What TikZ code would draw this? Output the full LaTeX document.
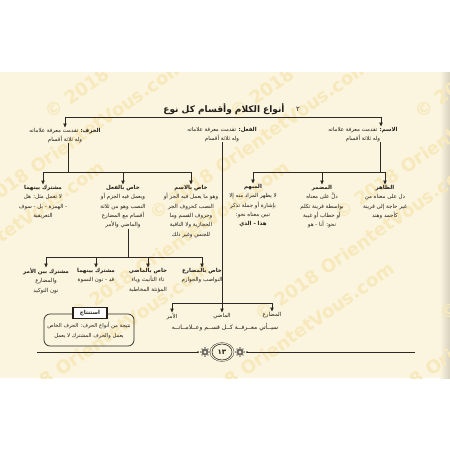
\documentclass[tikz,border=0pt]{standalone}
\usepackage{fontspec}
\usetikzlibrary{arrows.meta,calc}
\TeXXeTstate=1
\newfontfamily\arfont[Script=Arabic]{DejaVu Sans}
\newfontfamily\wmfont{DejaVu Sans}
\newcommand\AR[1]{\beginR #1\endR}
\definecolor{pagebg}{RGB}{251,244,222}
\definecolor{ink}{RGB}{35,30,25}
\definecolor{wm}{RGB}{247,233,188}
\definecolor{linec}{RGB}{45,40,35}
\begin{document}
\begin{tikzpicture}[x=1pt,y=-1pt,
  txt/.style={font=\arfont\fontsize{5.5}{9.4}\selectfont, align=center, inner sep=0pt, text=ink, anchor=north},
  ttl/.style={font=\arfont\bfseries\fontsize{9}{10}\selectfont, inner sep=0pt, text=ink},
  conn/.style={draw=linec, line width=0.6pt},
  arr/.style={conn, -{Triangle[length=4pt,width=3.4pt]}, shorten >=0.5pt},
  wmark/.style={font=\wmfont\bfseries\fontsize{18}{18}\selectfont, text=wm, anchor=base west, rotate=35, inner sep=0pt}]
\useasboundingbox (0,0) rectangle (450,450);
\fill[white] (0,0) rectangle (450,450);
\fill[pagebg] (0,72) rectangle (450,378);
\shade[left color=pagebg, right color={rgb,255:red,215;green,208;blue,190}] (440,72) rectangle (450,378);
\begin{scope}
\clip (0,72) rectangle (450,378);
\foreach \px/\py [count=\i] in {50/120,235/120,420/120,-30/221,155/221,340/221,-110/322,75/322,260/322,445/322,-5/423,180/423,365/423}
  \node[wmark] (wm\i) at (\px,\py) {© 2018 OrientetVous.com};
\end{scope}

% title
\node[ttl] (title) at (224,109) {\AR{أنواع الكلام وأقسام كل نوع}};
\node[ttl, font=\arfont\fontsize{7}{8}\selectfont] (tnum) at (298,109) {٢};

% level 1
\coordinate (barL) at (65,117);
\coordinate (barR) at (381,117);
\draw[conn] (barL) -- (barR);
\node[txt] (harf) at (65,128) {\AR{\textbf{الحرف:} تقدمت معرفة علاماته}\\\AR{وله ثلاثة أقسام}};
\node[txt] (fiil) at (222,127) {\AR{\textbf{الفعل:} تقدمت معرفة علاماته}\\\AR{وله ثلاثة أقسام}};
\node[txt] (ism) at (363,127) {\AR{\textbf{الاسم:} تقدمت معرفة علاماته}\\\AR{وله ثلاثة أقسام}};
\draw[arr] (harf.north |- barL) -- (harf.north);
\draw[arr] (barR) -- (ism.north -| barR);

% right subtree (ism)
\coordinate (rx) at (380,0);
\coordinate (rbar) at (0,172);
\node[txt] (mubham) at (253,184) {\AR{\textbf{المبهم}}\\\AR{لا يظهر المراد منه إلا}\\\AR{بإشارة أو جملة تذكر}\\\AR{تبين معناه نحو:}\\\AR{\textbf{هذا - الذي}}};
\node[txt] (mudmar) at (322,185) {\AR{\textbf{المضمر}}\\\AR{دلَّ على معناه}\\\AR{بواسطة قرينة تكلم}\\\AR{أو خطاب أو غيبة}\\\AR{نحو: أنا - هو}};
\node[txt] (zahir) at (385,185) {\AR{\textbf{الظاهر}}\\\AR{دل على معناه من}\\\AR{غير حاجة إلى قرينة}\\\AR{كأحمد وهند}};
\draw[conn] (ism.south -| rx) -- (rx |- rbar);
\draw[conn] (mubham.north |- rbar) -- (zahir.north |- rbar);
\foreach \n in {mubham,mudmar,zahir} \draw[arr] (\n.north |- rbar) -- (\n.north);

% left subtree (harf)
\coordinate (lx) at (68,0);
\coordinate (lbar) at (0,172);
\node[txt] (mushtarak) at (43,185) {\AR{\textbf{مشترك بينهما}}\\\AR{لا تعمل مثل: هل}\\\AR{- الهمزة - بل - سوف}\\\AR{التعريفية}};
\node[txt] (khasfiil) at (123,185) {\AR{\textbf{خاص بالفعل}}\\\AR{ويعمل فيه الجزم أو}\\\AR{النصب وهو من ثلاثة}\\\AR{أقسام مع المضارع}\\\AR{والماضي والأمر}};
\node[txt] (khasism) at (191,185) {\AR{\textbf{خاص بالاسم}}\\\AR{وهو ما يعمل فيه الجر أو}\\\AR{النصب كحروف الجر}\\\AR{وحروف القسم وما}\\\AR{الحجازية ولا النافية}\\\AR{للجنس وغير ذلك}};
\draw[conn] (harf.south -| lx) -- (lx |- lbar);
\draw[conn] (mushtarak.north |- lbar) -- (khasism.north |- lbar);
\foreach \n in {mushtarak,khasfiil,khasism} \draw[arr] (\n.north |- lbar) -- (\n.north);

% sub-subtree (khas bil-fiil)
\coordinate (fx) at (128,0);
\coordinate (fbar) at (0,257);
\node[txt] (amrmud) at (46,268) {\AR{\textbf{مشترك بين الأمر}}\\\AR{والمضارع}\\\AR{نون التوكيد}};
\node[txt] (baynahuma) at (96,268) {\AR{\textbf{مشترك بينهما}}\\\AR{قد - نون النسوة}};
\node[txt] (khasmadi) at (148,268) {\AR{\textbf{خاص بالماضي}}\\\AR{تاء التأنيث وياء}\\\AR{المؤنثة المخاطبة}};
\node[txt] (khasmud) at (202,268) {\AR{\textbf{خاص بالمضارع}}\\\AR{النواصب والجوازم}};
\draw[conn] (khasfiil.south -| fx) -- (fx |- fbar);
\draw[conn] (amrmud.north |- fbar) -- (khasmud.north |- fbar);
\foreach \n in {amrmud,baynahuma,khasmadi,khasmud} \draw[arr] (\n.north |- fbar) -- (\n.north);

% fiil subtree
\coordinate (bbar) at (0,303);
\node[txt] (amr) at (172,313) {\AR{الأمر}};
\node[txt] (madi) at (222,313) {\AR{الماضي}};
\node[txt] (mudari) at (272,312) {\AR{المضارع}};
\node[txt, font=\arfont\fontsize{6}{9}\selectfont] (later) at (225,323) {\AR{سيــأتي معــرفــة كــل قســم وعــلامــاتــه}};
\draw[arr] (fiil.south) -- (madi.north);
\draw[conn] (amr.north |- bbar) -- (mudari.north |- bbar);
\foreach \n in {amr,mudari} \draw[arr] (\n.north |- bbar) -- (\n.north);

% conclusion box
\node[draw=linec, line width=0.7pt, rounded corners=6pt, minimum width=90pt, minimum height=32pt, inner sep=2pt,
      font=\arfont\fontsize{5.3}{10}\selectfont, align=center, text=ink] (result) at (89,330)
  {\AR{نتيجة من أنواع الحرف: الحرف الخاص}\\\AR{يعمل والحرف المشترك لا يعمل}};
\node[draw=ink, line width=1.1pt, fill=white, minimum width=34pt, minimum height=11pt, inner sep=1pt,
      font=\arfont\bfseries\fontsize{5.5}{7}\selectfont, text=ink] (header) at (90,313) {\AR{استنتاج}};

% footer
\node[font=\arfont\bfseries\fontsize{7}{8}\selectfont, text=ink, inner sep=0pt] (pg) at (222,352) {١٣};
\draw[linec, line width=0.6pt] (pg) ellipse (10 and 8);
\draw[linec, line width=0.3pt] (pg) ellipse (12 and 9.5);
\foreach \cx in {205,240} {
  \fill[linec!70] (\cx,352) circle (3.5);
  \fill[pagebg] (\cx,352) circle (1.5);
  \foreach \a in {0,45,...,315} \fill[linec] ($(\cx,352)+(\a:4.2)$) circle (0.7);
}
\coordinate (fl1) at (37,352);
\coordinate (fl2) at (198,352);
\coordinate (fr1) at (247,352);
\coordinate (fr2) at (415,352);
\draw[linec, line width=0.7pt] (fl1) -- (fl2);
\draw[linec, line width=0.7pt] (fr1) -- (fr2);
\fill[linec] (fl2) circle (1); \fill[linec] (fr1) circle (1);
\end{tikzpicture}
\end{document}
